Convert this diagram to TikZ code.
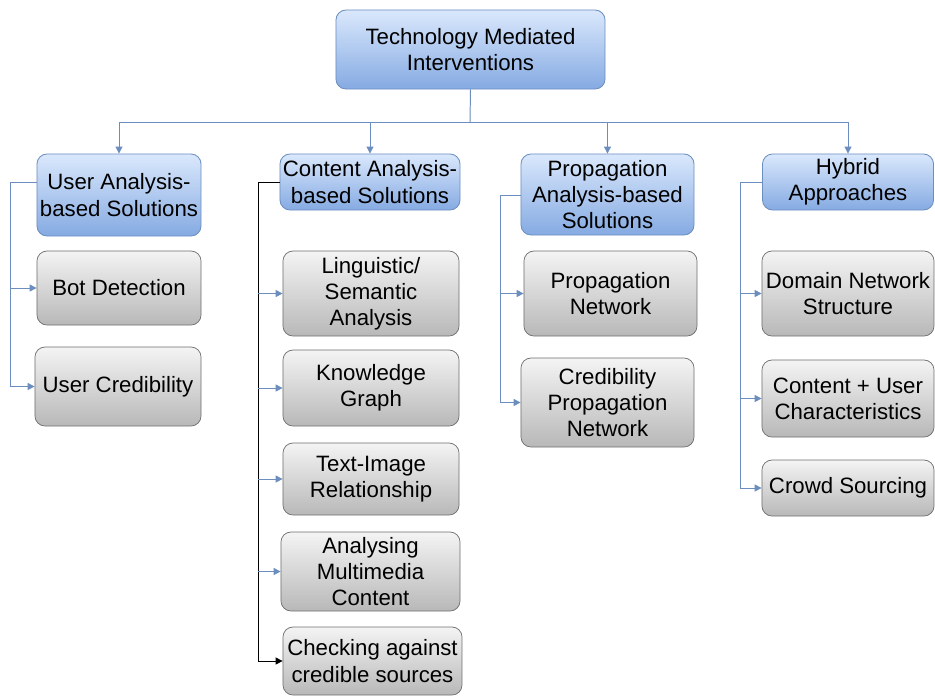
\documentclass[tikz,border=0pt]{standalone}
\usepackage{fontspec}
\setmainfont{Liberation Sans}
\usepackage{tikz}
\usetikzlibrary{arrows.meta,positioning,calc}
\definecolor{catline}{HTML}{6C8EBF}
\definecolor{cattop}{HTML}{DAE8FC}
\definecolor{catbot}{HTML}{85AAE2}
\definecolor{leaftop}{HTML}{F4F4F4}
\definecolor{leafbot}{HTML}{B8B8B8}
\definecolor{leafline}{HTML}{6E6E6E}

\begin{document}
\begin{tikzpicture}[
    x=0.025cm, y=-0.025cm,
    catbox/.style={rectangle, rounded corners=0.25cm, draw=catline, line width=0.6pt,
        top color=cattop, bottom color=catbot, align=center, inner sep=0pt,
        font=\fontsize{15.8}{18.6}\selectfont},
    leafbox/.style={rectangle, rounded corners=0.25cm, draw=leafline, line width=0.5pt,
        top color=leaftop, bottom color=leafbot, align=center, inner sep=0pt,
        font=\fontsize{15.8}{18.6}\selectfont},
    link/.style={draw=catline, line width=0.7pt},
    linkarrow/.style={link, -{Triangle[width=5pt,length=5pt]}},
    blackarrow/.style={draw=black, line width=0.7pt, -{Triangle[width=5pt,length=5pt]}}]
\useasboundingbox (0,0) rectangle (935,698);

% root and categories
\node[catbox, minimum width=6.725cm, minimum height=1.975cm] (root) at (470.5,49.5) {Technology Mediated\\Interventions};
\node[catbox, minimum width=4.1cm, minimum height=2.05cm] (user) at (119,195) {User Analysis-\\based Solutions};
\node[catbox, minimum width=4.5cm, minimum height=1.4cm] (content) at (370,182) {Content Analysis-\\based Solutions};
\node[catbox, minimum width=4.325cm, minimum height=2.025cm] (prop) at (607.5,194.5) {Propagation\\Analysis-based\\Solutions};
\node[catbox, minimum width=4.275cm, minimum height=1.4cm] (hybrid) at (848,182) {Hybrid\\Approaches};

% user analysis
\node[leafbox, minimum width=4.1cm, minimum height=1.85cm] (bot) at (119,288) {Bot Detection};
\node[leafbox, minimum width=4.15cm, minimum height=1.975cm] (usercred) at (118,386.5) {User Credibility};

% content analysis
\node[leafbox, minimum width=4.4cm, minimum height=2.125cm] (ling) at (371,293.5) {Linguistic/\\Semantic\\Analysis};
\node[leafbox, minimum width=4.4cm, minimum height=1.9cm] (know) at (371,388) {Knowledge\\Graph};
\node[leafbox, minimum width=4.4cm, minimum height=1.8cm] (textimg) at (371,479) {Text-Image\\Relationship};
\node[leafbox, minimum width=4.475cm, minimum height=1.975cm] (multi) at (370.5,571.5) {Analysing\\Multimedia\\Content};
\node[leafbox, minimum width=4.475cm, minimum height=1.7cm] (check) at (372.5,661) {Checking against\\credible sources};

% propagation analysis
\node[leafbox, minimum width=4.325cm, minimum height=2.125cm] (propnet) at (610.5,293.5) {Propagation\\Network};
\node[leafbox, minimum width=4.325cm, minimum height=2.225cm] (credprop) at (607.5,402.5) {Credibility\\Propagation\\Network};

% hybrid
\node[leafbox, minimum width=4.3cm, minimum height=2.125cm] (domain) at (848,293.5) {Domain Network\\Structure};
\node[leafbox, minimum width=4.3cm, minimum height=1.925cm] (contuser) at (848,398.5) {Content + User\\Characteristics};
\node[leafbox, minimum width=4.3cm, minimum height=1.4cm] (crowd) at (848,488) {Crowd Sourcing};

% top level connectors
\coordinate (hub) at (470,122);
\draw[link] (root.south) -- (hub);
\draw[linkarrow] (hub) -| (user.north);
\draw[linkarrow] (hub) -| (content.north);
\draw[linkarrow] (hub) -| (prop.north);
\draw[linkarrow] (hub) -| (hybrid.north);

% user column
\coordinate (ubus) at (10,182);
\draw[link] (user.west |- ubus) -- (ubus);
\draw[linkarrow] (ubus) |- (bot.west);
\draw[linkarrow] (ubus) |- (usercred.west);

% content column
\coordinate (cbus) at (258,182);
\draw[blackarrow] (content.west) -- (cbus) |- (check.west);
\draw[linkarrow] (cbus |- ling.west) -- (ling.west);
\draw[linkarrow] (cbus |- know.west) -- (know.west);
\draw[linkarrow] (cbus |- textimg.west) -- (textimg.west);
\draw[linkarrow] (cbus |- multi.west) -- (multi.west);

% propagation column
\coordinate (pbus) at (500,195);
\draw[link] (prop.west |- pbus) -- (pbus);
\draw[linkarrow] (pbus) |- (propnet.west);
\draw[linkarrow] (pbus) |- (credprop.west);

% hybrid column
\coordinate (hbus) at (740,182);
\draw[link] (hybrid.west) -- (hbus);
\draw[linkarrow] (hbus) |- (domain.west);
\draw[linkarrow] (hbus) |- (contuser.west);
\draw[linkarrow] (hbus) |- (crowd.west);
\end{tikzpicture}
\end{document}
